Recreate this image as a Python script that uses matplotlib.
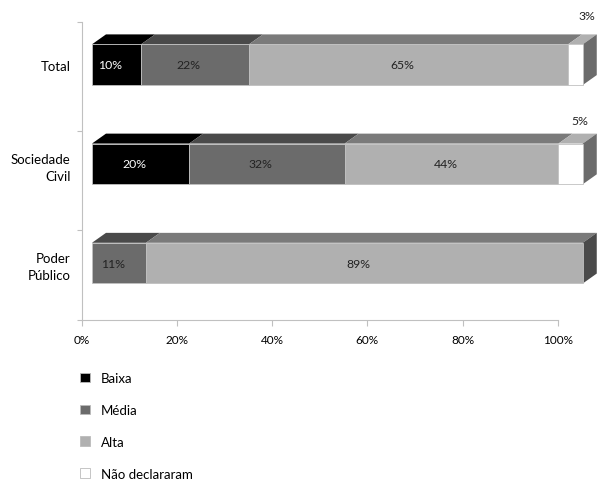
import matplotlib.pyplot as plt
from matplotlib.patches import Polygon, Patch
import numpy as np

plt.rcParams['font.family'] = ['Lato', 'DejaVu Sans']

# data
categories = ['Poder\nPúblico', 'Sociedade\nCivil', 'Total']
levels = ['Baixa', 'Média', 'Alta', 'Não declararam']
baixa = [0, 20, 10]
media = [11, 32, 22]
alta = [89, 44, 65]
nao_decl = [0, 5, 3]
xtick_vals = [0, 20, 40, 60, 80, 100]
xtick_labels = ['0%', '20%', '40%', '60%', '80%', '100%']

series = [baixa, media, alta, nao_decl]
front_cols = ['#000000', '#6b6b6b', '#b0b0b0', '#ffffff']
top_cols = ['#000000', '#4a4a4a', '#7a7a7a', '#b0b0b0']
side_cols = ['#000000', '#3a3a3a', '#4a4a4a', '#6b6b6b']
text_cols = ['white', '#222222', '#222222', '#222222']

# 3d look: front face is slightly shifted / stretched against the axis
off, k = 2.16, 1.031
dx, dy = 2.94, 0.10
h = 0.41

fig = plt.figure(figsize=(5.99, 4.81), dpi=100)
ax = fig.add_axes([0.1364, 0.3333, 0.7947, 0.6189])

for i, cat in enumerate(categories):
    vals = [s[i] for s in series]
    total = sum(vals)  # rounded shares may not add to exactly 100
    last = max(j for j, v in enumerate(vals) if v > 0)
    cum = 0
    for j, v in enumerate(vals):
        if v == 0:
            continue
        x0 = off + k * 100 * cum / total
        w = k * 100 * v / total
        ax.barh(i, w, left=x0, height=h, color=front_cols[j],
                edgecolor='#c0c0c0', linewidth=0.6, clip_on=False, zorder=3)
        yt = i + h / 2
        ax.add_patch(Polygon([(x0, yt), (x0 + w, yt), (x0 + w + dx, yt + dy), (x0 + dx, yt + dy)],
                             closed=True, facecolor=top_cols[j], edgecolor='none',
                             clip_on=False, zorder=2))
        if j == last:
            yb = i - h / 2
            ax.add_patch(Polygon([(x0 + w, yb), (x0 + w, yt), (x0 + w + dx, yt + dy), (x0 + w + dx, yb + dy)],
                                 closed=True, facecolor=side_cols[j], edgecolor='none',
                                 clip_on=False, zorder=2))
        if v >= 8:
            ax.text(x0 + w / 2 - 1.3, i, f'{v}%', ha='center', va='center',
                    fontsize=8.8, color=text_cols[j], zorder=4)
        else:
            ax.text(x0 + w + dx * 0.3 + (3 - v) * 0.8, i + 0.44 + (5 - v) * 0.03, f'{v}%',
                    ha='center', va='center', fontsize=8.8, color='#222222', clip_on=False)
        cum += v

ax.set_xlim(0, 100)
ax.set_ylim(-0.57, 2.43)
ax.set_xticks(xtick_vals)
ax.set_xticklabels(xtick_labels, fontsize=8.5)
ax.set_yticks(range(len(categories)))
ax.set_yticklabels(categories, fontsize=9.5, linespacing=1.5)
ax.set_yticks([-0.57, 0.33, 1.33, 2.43], minor=True)
ax.tick_params(axis='y', which='major', length=0, pad=8)
ax.tick_params(axis='y', which='minor', length=3.3, color='#c0c0c0', width=0.8)
ax.tick_params(axis='x', length=4, color='#c0c0c0', width=0.8, direction='out', pad=6)
for s in ['top', 'right']:
    ax.spines[s].set_visible(False)
for s in ['left', 'bottom']:
    ax.spines[s].set_color('#c0c0c0')
    ax.spines[s].set_linewidth(0.8)

handles = [Patch(facecolor=c, edgecolor='#bbbbbb', linewidth=0.6) for c in front_cols]
fig.legend(handles, levels, loc='upper left', bbox_to_anchor=(0.133, 0.224),
           frameon=False, fontsize=9.5, handlelength=0.75, handleheight=0.75,
           handletextpad=0.85, labelspacing=1.5, borderpad=0, borderaxespad=0)

plt.savefig('out.png', dpi=100)
